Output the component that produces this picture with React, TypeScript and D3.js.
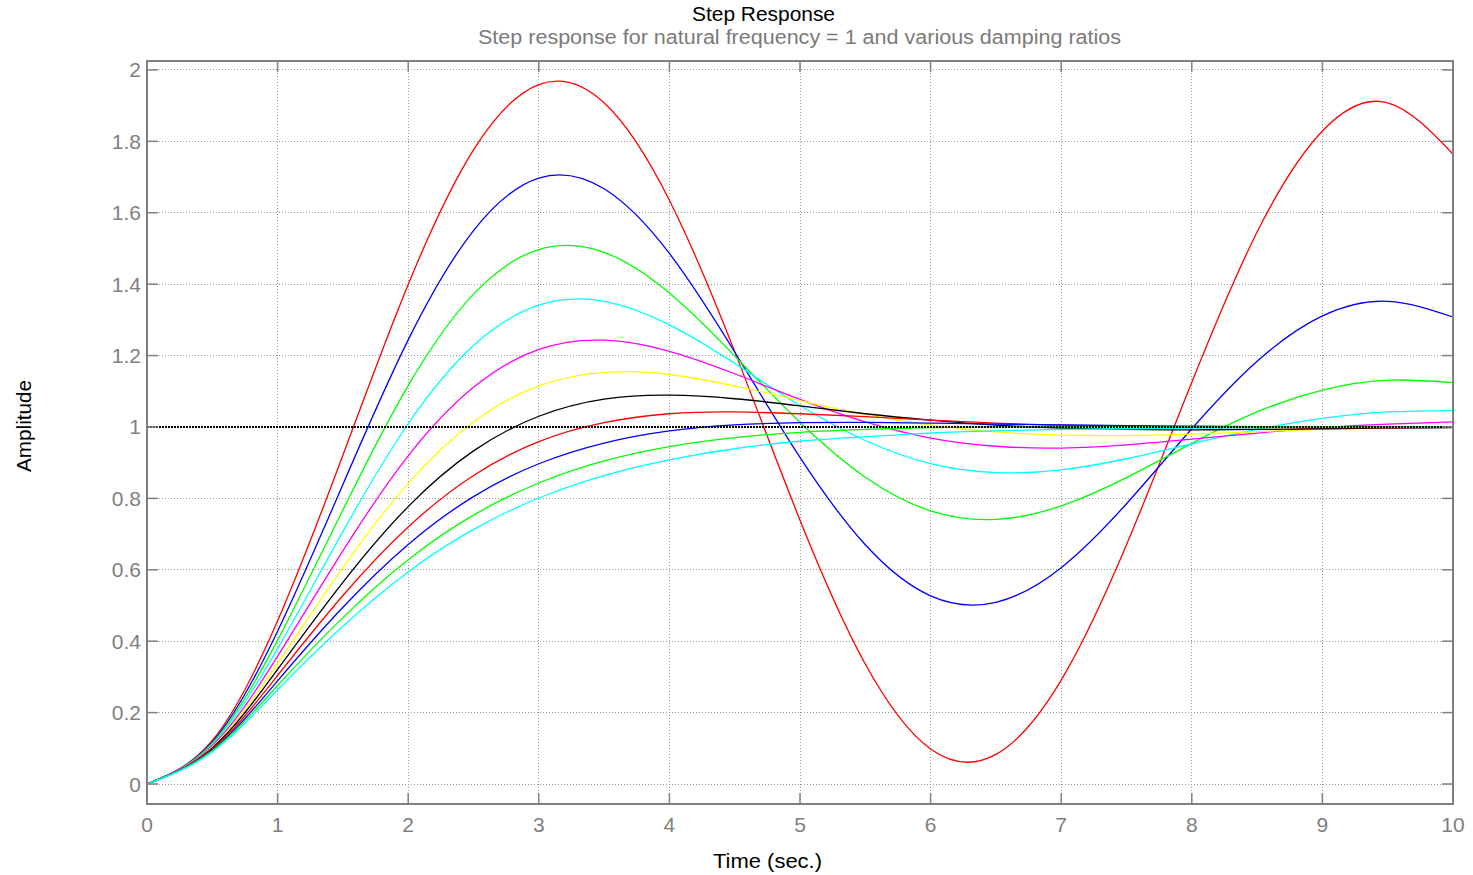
import React from "react";
import * as d3 from "d3";

// Time samples (seconds)
const times = [0, 0.5, 1, 1.5, 2, 2.5, 3, 3.5, 4, 4.5, 5, 5.5, 6, 6.5, 7, 7.5, 8, 8.5, 9, 9.5, 10];

// Step responses (one array per damping ratio)
const zeta001 = [0, 0.122, 0.457, 0.921, 1.399, 1.776, 1.959, 1.908, 1.635, 1.211, 0.739, 0.336, 0.098, 0.083, 0.291, 0.670, 1.125, 1.546, 1.829, 1.908, 1.764];
const zeta011 = [0, 0.118, 0.428, 0.839, 1.244, 1.550, 1.697, 1.667, 1.486, 1.210, 0.915, 0.670, 0.527, 0.509, 0.606, 0.785, 0.995, 1.184, 1.311, 1.352, 1.308];
const zeta021 = [0, 0.114, 0.403, 0.768, 1.116, 1.372, 1.497, 1.489, 1.375, 1.199, 1.013, 0.859, 0.765, 0.741, 0.779, 0.858, 0.954, 1.042, 1.103, 1.131, 1.124];
const zeta031 = [0, 0.111, 0.379, 0.707, 1.009, 1.228, 1.341, 1.352, 1.286, 1.178, 1.060, 0.962, 0.897, 0.872, 0.880, 0.911, 0.953, 0.993, 1.024, 1.042, 1.046];
const zeta041 = [0, 0.107, 0.358, 0.653, 0.919, 1.111, 1.217, 1.243, 1.212, 1.149, 1.077, 1.014, 0.969, 0.946, 0.941, 0.950, 0.966, 0.983, 0.998, 1.008, 1.014];
const zeta051 = [0, 0.104, 0.338, 0.606, 0.842, 1.014, 1.115, 1.153, 1.147, 1.115, 1.074, 1.035, 1.005, 0.986, 0.977, 0.976, 0.980, 0.987, 0.993, 0.998, 1.001];
const zeta061 = [0, 0.101, 0.321, 0.565, 0.777, 0.933, 1.030, 1.078, 1.089, 1.079, 1.059, 1.037, 1.019, 1.005, 0.997, 0.993, 0.992, 0.993, 0.995, 0.997, 0.998];
const zeta071 = [0, 0.098, 0.304, 0.528, 0.720, 0.864, 0.959, 1.012, 1.037, 1.042, 1.037, 1.029, 1.019, 1.011, 1.005, 1.002, 0.999, 0.998, 0.998, 0.998, 0.999];
const zeta081 = [0, 0.095, 0.289, 0.495, 0.671, 0.805, 0.897, 0.955, 0.989, 1.006, 1.012, 1.013, 1.011, 1.008, 1.006, 1.004, 1.002, 1.001, 1.000, 1.000, 1.000];
const zeta091 = [0, 0.093, 0.276, 0.466, 0.628, 0.753, 0.843, 0.905, 0.945, 0.970, 0.985, 0.993, 0.998, 1.000, 1.001, 1.001, 1.001, 1.001, 1.001, 1.000, 1.000];
const zeta100 = [0, 0.090, 0.264, 0.442, 0.594, 0.713, 0.801, 0.864, 0.908, 0.939, 0.960, 0.973, 0.983, 0.989, 0.993, 0.995, 0.997, 0.998, 0.999, 0.999, 1.000];

const seriesValues = [zeta001, zeta011, zeta021, zeta031, zeta041, zeta051, zeta061, zeta071, zeta081, zeta091, zeta100];
const seriesColors = ["#ff0000", "#0000ff", "#00ff00", "#00ffff", "#ff00ff", "#ffff00", "#000000", "#ff0000", "#0000ff", "#00ff00", "#00ffff"];

const xTicks = [0, 1, 2, 3, 4, 5, 6, 7, 8, 9, 10];
const yTicks = [0, 0.2, 0.4, 0.6, 0.8, 1, 1.2, 1.4, 1.6, 1.8, 2];
const yTickLabels = ["0", "0.2", "0.4", "0.6", "0.8", "1", "1.2", "1.4", "1.6", "1.8", "2"];
const referenceLevel = [1];

const titleText = "Step Response";
const subtitleText = "Step response for natural frequency = 1 and various damping ratios";
const xLabelText = "Time (sec.)";
const yLabelText = "Amplitude";

export default function App() {
  const W = 1473;
  const H = 875;
  const left = 147, right = 1453, top = 61, bottom = 804;
  const x = d3.scaleLinear().domain([0, 10]).range([left, right]);
  const y = d3.scaleLinear().domain([-0.056, 2.025]).range([bottom, top]);
  const line = d3
    .line<number>()
    .x((_, i) => x(times[i]))
    .y((v) => y(v))
    .curve(d3.curveNatural);

  const gray = "#808080";
  const font = "'Liberation Sans', Arial, Helvetica, sans-serif";
  const tickLen = 11;

  return (
    <svg width={W} height={H} style={{ position: "absolute", left: 0, top: 0, background: "#fff" }} fontFamily={font}>
      <rect x={0} y={0} width={W} height={H} fill="#fff" />
      {/* grid */}
      <g stroke="#9a9a9a" strokeWidth={1} strokeDasharray="1,2" shapeRendering="crispEdges">
        {xTicks.slice(1, -1).map((t) => (
          <line key={"gx" + t} x1={x(t)} x2={x(t)} y1={top} y2={bottom} />
        ))}
        {yTicks.map((t) => (
          <line key={"gy" + t} x1={left} x2={right} y1={y(t)} y2={y(t)} />
        ))}
      </g>
      {/* curves */}
      <g fill="none" strokeWidth={1.3}>
        {seriesValues.map((vals, i) => (
          <path key={i} d={line(vals) || ""} stroke={seriesColors[i]} />
        ))}
      </g>
      {/* reference line */}
      {referenceLevel.map((r) => (
        <line key={"ref" + r} x1={left} x2={right} y1={y(r)} y2={y(r)} stroke="#000" strokeWidth={2} strokeDasharray="2,1" />
      ))}
      {/* frame */}
      <rect x={left} y={top} width={right - left} height={bottom - top} fill="none" stroke={gray} strokeWidth={2} />
      {/* ticks */}
      <g stroke={gray} strokeWidth={1.5}>
        {xTicks.map((t) => (
          <g key={"tx" + t}>
            <line x1={x(t)} x2={x(t)} y1={bottom} y2={bottom - tickLen} />
            <line x1={x(t)} x2={x(t)} y1={top} y2={top + tickLen} />
          </g>
        ))}
        {yTicks.map((t) => (
          <g key={"ty" + t}>
            <line x1={left} x2={left + tickLen} y1={y(t)} y2={y(t)} />
            <line x1={right} x2={right - tickLen} y1={y(t)} y2={y(t)} />
          </g>
        ))}
      </g>
      {/* tick labels */}
      <g fill={gray} fontSize={21}>
        {xTicks.map((t) => (
          <text key={"lx" + t} x={x(t)} y={832} textAnchor="middle">
            {String(t)}
          </text>
        ))}
        {yTicks.map((t, i) => (
          <text key={"ly" + t} x={141} y={y(t)} textAnchor="end" dominantBaseline="central">
            {yTickLabels[i]}
          </text>
        ))}
      </g>
      {/* titles */}
      <text x={692} y={21} fontSize={20} fill="#000" textLength={143} lengthAdjust="spacingAndGlyphs">
        {titleText}
      </text>
      <text x={478} y={44} fontSize={20} fill="#7a7a7a" textLength={643} lengthAdjust="spacingAndGlyphs">
        {subtitleText}
      </text>
      <text x={713} y={868} fontSize={21} fill="#000" textLength={109} lengthAdjust="spacingAndGlyphs">
        {xLabelText}
      </text>
      <text
        transform={`translate(31,426) rotate(-90)`}
        textAnchor="middle"
        fontSize={21}
        fill="#000"
        textLength={92}
        lengthAdjust="spacingAndGlyphs"
      >
        {yLabelText}
      </text>
    </svg>
  );
}
